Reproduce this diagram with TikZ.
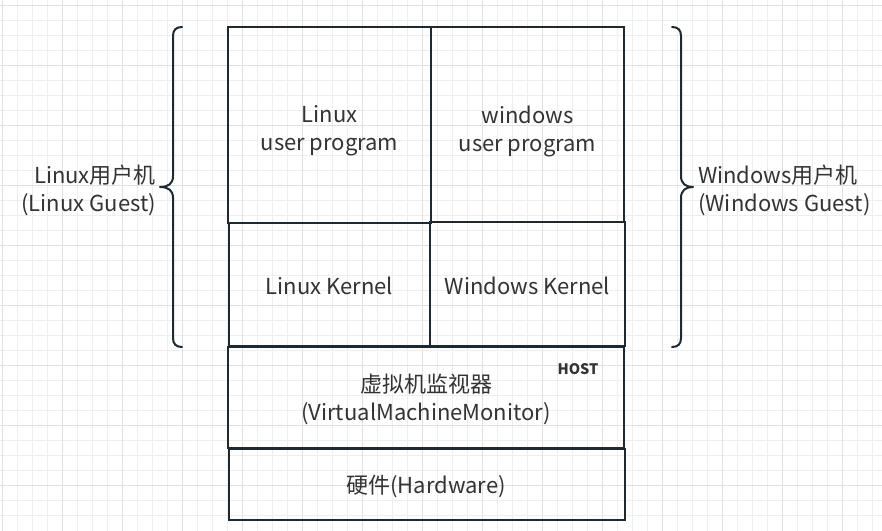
\documentclass[tikz,border=0pt]{standalone}
\usepackage{fontspec}
\newfontfamily\cjk{Noto Sans CJK SC}
\usepackage{tikz}
\usetikzlibrary{positioning}

\begin{document}
\begin{tikzpicture}[x=1pt,y=-1pt,line cap=rect,font=\cjk\fontsize{22pt}{28pt}\selectfont]
	\definecolor{custcol_grid_minor}{RGB}{238, 238, 238}
	\definecolor{custcol_grid_major}{RGB}{224, 224, 224}
	\definecolor{custcol_line}{RGB}{31, 41, 50}
	\definecolor{custcol_text}{RGB}{51, 51, 51}
	\tikzset{
		blk/.style={draw=custcol_line, line width=2.0pt, inner sep=0, text=custcol_text, align=center},
		brace/.style={draw=custcol_line, line width=2.0pt, line cap=round, line join=round},
		lbl/.style={inner sep=0, text=custcol_text}
	}
	\useasboundingbox (0,0) rectangle (882,530);
	\fill [white] (0,0) rectangle (882,530);
	% background grid
	\foreach \x in {2,17,...,880} \draw [line width=1.0pt, custcol_grid_minor] (\x,0) -- (\x,530);
	\foreach \y in {5,20,...,528} \draw [line width=1.0pt, custcol_grid_minor] (0,\y) -- (882,\y);
	\foreach \x in {2,62,...,880} \draw [line width=1.0pt, custcol_grid_major] (\x,0) -- (\x,530);
	\foreach \y in {5,65,...,528} \draw [line width=1.0pt, custcol_grid_major] (0,\y) -- (882,\y);
	% layers
	\node[blk, minimum width=203, minimum height=196] (linuxprog) at (329.5,125.0) {};
	\node[lbl, align=center] (linuxprogtxt) at ([yshift=-6pt]linuxprog) {Linux\\user program};
	\node[blk, minimum width=193, minimum height=195] (winprog) at (527.5,124.5) {};
	\node[lbl, align=center] (winprogtxt) at ([yshift=-6.5pt]winprog) {windows\\user program};
	\node[blk, minimum width=201, minimum height=123] (linuxkern) at (329.5,284.5) {};
	\node[lbl] (linuxkerntxt) at ([yshift=-1.5pt]linuxkern) {Linux Kernel};
	\node[blk, minimum width=195, minimum height=124] (winkern) at (527.5,284.0) {};
	\node[lbl] (winkerntxt) at ([yshift=-2pt]winkern) {Windows Kernel};
	\node[blk, minimum width=396, minimum height=101] (vmm) at (426.0,397.5) {};
	\node[lbl, align=center] (vmmtxt) at ([yshift=-2pt]vmm) {虚拟机监视器\\(VirtualMachineMonitor)};
	\node[blk, minimum width=396, minimum height=71] (hw) at (427.0,484.5) {};
	\node[lbl] (hwtxt) at ([xshift=-1pt,yshift=-2pt]hw) {硬件(Hardware)};
	\node[lbl, font=\cjk\fontsize{14.5pt}{14.5pt}\selectfont\bfseries] (host) at (578.0,369.0) {HOST};
	% braces
	\coordinate (ltip) at (160.0,187.0);
	\coordinate (rtip) at (693.0,187.0);
	\draw [brace] (182.0,27.0) .. controls (176.0,27.0) and (173.0,30.0) .. (173.0,36.0) -- (173.0,176.0)
		.. controls (173.0,184.0) and (168.0,187.0) .. (ltip)
		.. controls (168.0,187.0) and (173.0,190.0) .. (173.0,198.0) -- (173.0,338.0)
		.. controls (173.0,344.0) and (176.0,347.0) .. (182.0,347.0);
	\draw [brace] (672.0,27.0) .. controls (678.0,27.0) and (681.0,30.0) .. (681.0,36.0) -- (681.0,176.0)
		.. controls (681.0,184.0) and (686.0,187.0) .. (rtip)
		.. controls (686.0,187.0) and (681.0,190.0) .. (681.0,198.0) -- (681.0,338.0)
		.. controls (681.0,344.0) and (678.0,347.0) .. (672.0,347.0);
	\node[lbl, align=right, anchor=east] (linuxguest) at ([xshift=-4pt,yshift=-3pt]ltip) {Linux用户机\\(Linux Guest)};
	\node[lbl, align=left, anchor=west] (winguest) at ([xshift=5pt,yshift=-3pt]rtip) {Windows用户机\\(Windows Guest)};
\end{tikzpicture}
\end{document}
